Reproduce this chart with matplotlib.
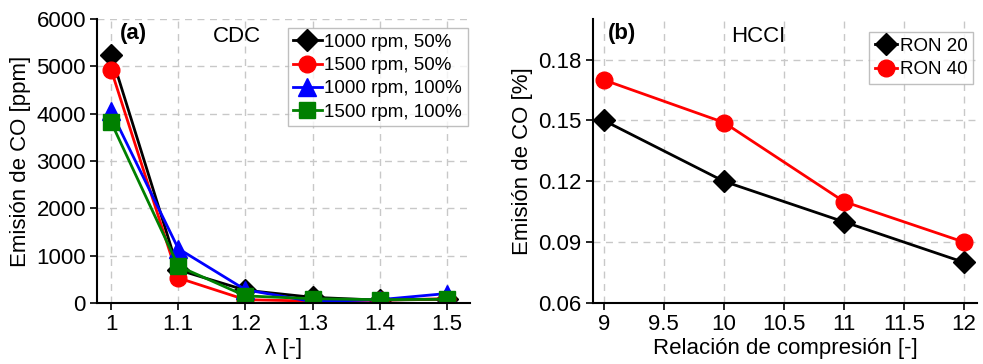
import matplotlib
matplotlib.use("Agg")
import matplotlib.pyplot as plt

plt.rcParams['font.family'] = ['Liberation Sans', 'DejaVu Sans']

# Panel (a) data
lam = [1.0, 1.1, 1.2, 1.3, 1.4, 1.5]
co_1000_50 = [5250, 700, 270, 120, 60, 80]
co_1500_50 = [4930, 530, 70, 40, 60, 90]
co_1000_100 = [4050, 1150, 280, 30, 70, 200]
co_1500_100 = [3820, 780, 150, 90, 70, 80]
labels_a = ['1000 rpm, 50%', '1500 rpm, 50%', '1000 rpm, 100%', '1500 rpm, 100%']

# Panel (b) data
cr = [9, 10, 11, 12]
ron20 = [0.150, 0.120, 0.100, 0.080]
ron40 = [0.170, 0.149, 0.110, 0.090]
labels_b = ['RON 20', 'RON 40']

fig = plt.figure(figsize=(9.83, 3.64), dpi=100)
ax1 = fig.add_axes([0.0987, 0.1676, 0.379, 0.780])
ax2 = fig.add_axes([0.603, 0.1676, 0.391, 0.780])

fs = 16

def style(ax):
    for s in ['top', 'right']:
        ax.spines[s].set_visible(False)
    for s in ['left', 'bottom']:
        ax.spines[s].set_linewidth(1.5)
    ax.grid(True, linestyle=(0, (5, 4)), color='#c8c8c8', linewidth=1)
    ax.set_axisbelow(True)
    ax.tick_params(labelsize=fs, width=1.2, length=5, direction='out', pad=3)

series_a = [co_1000_50, co_1500_50, co_1000_100, co_1500_100]
cols_a = ['black', 'red', 'blue', 'green']
mk_a = ['D', 'o', '^', 's']
ms_a = [11, 12, 13, 11]
for y, c, m, ms, lb in zip(series_a, cols_a, mk_a, ms_a, labels_a):
    ax1.plot(lam, y, color=c, marker=m, markersize=ms, linewidth=2, label=lb)
style(ax1)
ax1.set_xlim(0.979, 1.534)
ax1.set_ylim(0, 6000)
ax1.set_xticks(lam)
ax1.set_xticklabels(['1', '1.1', '1.2', '1.3', '1.4', '1.5'])
ax1.set_yticks([0, 1000, 2000, 3000, 4000, 5000, 6000])
ax1.set_xlabel('λ [-]', fontsize=fs, labelpad=2)
ax1.set_ylabel('Emisión de CO [ppm]', fontsize=fs, labelpad=4)
ax1.text(0.06, 0.95, '(a)', transform=ax1.transAxes, fontsize=fs, fontweight='bold', va='center')
ax1.text(0.31, 0.94, 'CDC', transform=ax1.transAxes, fontsize=fs, va='center')
leg = ax1.legend(loc='upper right', bbox_to_anchor=(1.0, 0.975), fontsize=13.5, frameon=True,
                 fancybox=False, edgecolor='#b0b0b0', handlelength=1.5, handletextpad=0.15,
                 borderpad=0.3, labelspacing=0.33, borderaxespad=0.1)
leg.get_frame().set_linewidth(1)

ax2.plot(cr, ron20, color='black', marker='D', markersize=11, linewidth=2, label=labels_b[0])
ax2.plot(cr, ron40, color='red', marker='o', markersize=12, linewidth=2, label=labels_b[1])
style(ax2)
ax2.set_xlim(8.908, 12.108)
ax2.set_ylim(0.06, 0.2)
ax2.set_xticks([9, 9.5, 10, 10.5, 11, 11.5, 12])
ax2.set_xticklabels(['9', '9.5', '10', '10.5', '11', '11.5', '12'])
ax2.set_yticks([0.06, 0.09, 0.12, 0.15, 0.18])
ax2.set_yticklabels(['0.06', '0.09', '0.12', '0.15', '0.18'])
ax2.set_xlabel('Relación de compresión [-]', fontsize=fs, labelpad=2)
ax2.set_ylabel('Emisión de CO [%]', fontsize=fs, labelpad=4)
ax2.text(0.04, 0.95, '(b)', transform=ax2.transAxes, fontsize=fs, fontweight='bold', va='center')
ax2.text(0.36, 0.94, 'HCCI', transform=ax2.transAxes, fontsize=fs, va='center')
leg2 = ax2.legend(loc='upper right', bbox_to_anchor=(0.995, 0.96), fontsize=13.5, frameon=True,
                  fancybox=False, edgecolor='#b0b0b0', handlelength=1.2, handletextpad=0.15,
                  borderpad=0.3, labelspacing=0.33, borderaxespad=0.1)
leg2.get_frame().set_linewidth(1)

fig.savefig('out.png', dpi=100)
